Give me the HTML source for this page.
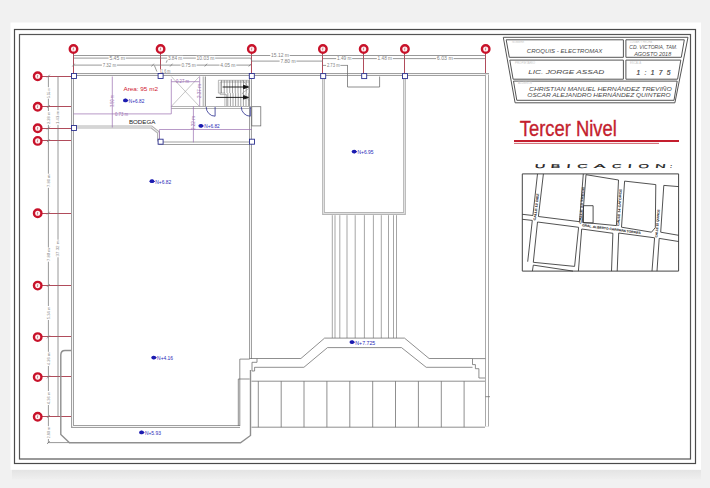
<!DOCTYPE html><html><head><meta charset="utf-8"><style>html,body{margin:0;padding:0;background:#f1f1f1;width:710px;height:488px;overflow:hidden}svg{display:block}text{font-family:"Liberation Sans",sans-serif}</style></head><body>
<div id="w">
<svg width="710" height="488" viewBox="0 0 710 488">
<defs><linearGradient id="sh" x1="0" y1="0" x2="0" y2="1"><stop offset="0" stop-color="#e3e3e3"/><stop offset="1" stop-color="#efefef"/></linearGradient></defs>
<rect x="0" y="0" width="710" height="488" fill="#f1f1f1"/>
<rect x="12" y="469.5" width="689" height="10" fill="url(#sh)"/>
<rect x="10.5" y="22.5" width="690.5" height="447.3" fill="#ffffff"/>
<rect x="14.5" y="29.5" width="681" height="434" fill="none" stroke="#4a4a4a" stroke-width="1.2"/>
<rect x="19.5" y="34.5" width="671" height="424.5" fill="none" stroke="#555" stroke-width="1.2"/>
<polygon points="503.3,37.3 688.0,37.3 674.9,102.8 515.1,102.8" fill="none" stroke="#555" stroke-width="1"/>
<polygon points="506.2,39.8 623.4,39.8 623.4,57.3 509.3,57.3" fill="none" stroke="#555" stroke-width="1"/>
<polygon points="625.9,39.8 684.3,39.8 681.3,57.3 625.9,57.3" fill="none" stroke="#555" stroke-width="1"/>
<polygon points="509.8,60.1 623.4,60.1 623.4,79.2 513.1,79.2" fill="none" stroke="#555" stroke-width="1"/>
<polygon points="625.9,60.1 680.8,60.1 677.6,79.2 625.9,79.2" fill="none" stroke="#555" stroke-width="1"/>
<polygon points="513.5,81.1 677.2,81.1 674.0,100.3 516.8,100.3" fill="none" stroke="#555" stroke-width="1"/>
<text x="512" y="43.2" font-size="2.6" fill="#c8c8c8" font-weight="normal" font-style="normal" textLength="12" lengthAdjust="spacingAndGlyphs" text-anchor="start" >NOMBRE</text>
<text x="630" y="43.2" font-size="2.6" fill="#c8c8c8" font-weight="normal" font-style="normal" textLength="22" lengthAdjust="spacingAndGlyphs" text-anchor="start" >LUGAR Y FECHA</text>
<text x="515" y="63.6" font-size="2.6" fill="#c8c8c8" font-weight="normal" font-style="normal" textLength="20" lengthAdjust="spacingAndGlyphs" text-anchor="start" >PROPIETARIO</text>
<text x="630" y="63.6" font-size="2.6" fill="#c8c8c8" font-weight="normal" font-style="normal" textLength="11" lengthAdjust="spacingAndGlyphs" text-anchor="start" >ESCALA</text>
<text x="518" y="84" font-size="2.6" fill="#c8c8c8" font-weight="normal" font-style="normal" textLength="14" lengthAdjust="spacingAndGlyphs" text-anchor="start" >ALUMNOS</text>
<text x="526.8" y="53.0" font-size="5.4" fill="#4a4a4a" font-weight="normal" font-style="italic" textLength="75.6" lengthAdjust="spacingAndGlyphs" text-anchor="start" >CROQUIS - ELECTROMAX</text>
<text x="629.3" y="49.3" font-size="4.9" fill="#4a4a4a" font-weight="normal" font-style="italic" textLength="48" lengthAdjust="spacingAndGlyphs" text-anchor="start" >CD. VICTORIA, TAM.</text>
<text x="634.2" y="56.0" font-size="4.9" fill="#4a4a4a" font-weight="normal" font-style="italic" textLength="37" lengthAdjust="spacingAndGlyphs" text-anchor="start" >AGOSTO 2018</text>
<text x="528.2" y="74.1" font-size="5.5" fill="#4a4a4a" font-weight="normal" font-style="italic" textLength="76" lengthAdjust="spacingAndGlyphs" text-anchor="start" >LIC. JORGE ASSAD</text>
<text x="636.4" y="74.6" font-size="6.6" fill="#444" stroke="#444" stroke-width="0.2" textLength="34" lengthAdjust="spacing" font-style="italic">1:175</text>
<text x="529" y="90.7" font-size="5.2" fill="#4a4a4a" font-weight="normal" font-style="italic" textLength="142.7" lengthAdjust="spacingAndGlyphs" text-anchor="start" >CHRISTIAN MANUEL HERNÁNDEZ TREVIÑO</text>
<text x="527.3" y="97.2" font-size="5.2" fill="#4a4a4a" font-weight="normal" font-style="italic" textLength="143.3" lengthAdjust="spacingAndGlyphs" text-anchor="start" >OSCAR ALEJANDRO HERNÁNDEZ QUINTERO</text>
<text x="519.8" y="136" font-size="21.5" fill="#c41e2e" font-weight="normal" font-style="normal" textLength="97" lengthAdjust="spacingAndGlyphs" text-anchor="start" stroke="#c41e2e" stroke-width="0.35">Tercer Nivel</text>
<line x1="514" y1="141" x2="679" y2="141" stroke="#c41e2e" stroke-width="1.8"/>
<line x1="514" y1="143.4" x2="659" y2="143.4" stroke="#c8505a" stroke-width="0.9"/>
<text x="0" y="0" font-size="5.6" fill="#1a1a1a" stroke="#1a1a1a" stroke-width="0.18" transform="translate(534.60,168.1) skewX(-8) scale(2.629,1)">U</text>
<text x="0" y="0" font-size="5.6" fill="#1a1a1a" stroke="#1a1a1a" stroke-width="0.18" transform="translate(550.40,168.1) skewX(-8) scale(2.559,1)">B</text>
<text x="0" y="0" font-size="5.6" fill="#1a1a1a" stroke="#1a1a1a" stroke-width="0.18" transform="translate(566.30,168.1) skewX(-8) scale(2.679,1)">I</text>
<text x="0" y="0" font-size="5.6" fill="#1a1a1a" stroke="#1a1a1a" stroke-width="0.18" transform="translate(576.90,168.1) skewX(-8) scale(2.604,1)">C</text>
<text x="0" y="0" font-size="5.6" fill="#1a1a1a" stroke="#1a1a1a" stroke-width="0.18" transform="translate(593.80,168.1) skewX(-8) scale(3.092,1)">A</text>
<text x="0" y="0" font-size="5.6" fill="#1a1a1a" stroke="#1a1a1a" stroke-width="0.18" transform="translate(611.70,168.1) skewX(-8) scale(2.356,1)">C</text>
<text x="0" y="0" font-size="5.6" fill="#1a1a1a" stroke="#1a1a1a" stroke-width="0.18" transform="translate(627.60,168.1) skewX(-8) scale(2.679,1)">I</text>
<text x="0" y="0" font-size="5.6" fill="#1a1a1a" stroke="#1a1a1a" stroke-width="0.18" transform="translate(638.20,168.1) skewX(-8) scale(2.404,1)">O</text>
<text x="0" y="0" font-size="5.6" fill="#1a1a1a" stroke="#1a1a1a" stroke-width="0.18" transform="translate(655.10,168.1) skewX(-8) scale(2.604,1)">N</text>
<text x="0" y="0" font-size="5.6" fill="#1a1a1a" stroke="#1a1a1a" stroke-width="0.18" transform="translate(669.80,168.1) skewX(-8) scale(1.403,1)">:</text>
<g fill="none" stroke="#333" stroke-width="0.85" stroke-linejoin="round">
<rect x="522.3" y="173.9" width="156.3" height="97.2" stroke="#444" stroke-width="1"/>
<polyline points="537.5,173.9 532.9,215.5 522.3,214.3"/>
<polyline points="522.3,219.3 532.3,220.4 527.7,261.7"/>
<polyline points="543.4,173.9 538.4,216.5 579.5,221.7 583.3,173.9"/>
<polyline points="537.5,222 578.6,227.3 574.6,266.4 533.3,262.3 537.5,222"/>
<polyline points="532.4,271.1 533.3,265.1 573,271.1"/>
<polyline points="586,174.7 618.5,180 616.4,225.6 582.3,222.3 586,174.7"/>
<polyline points="581.7,229 612.9,233.3 611.5,271.1"/>
<polyline points="581.7,229 578.4,271.1"/>
<polyline points="624.6,181.1 655.8,184.6 655.3,227.6 651.5,232.2 621.5,227.2 624.6,181.1"/>
<polyline points="618.7,233 654.6,237.8 652,271.1"/>
<polyline points="618.7,233 617.2,271.1"/>
<polyline points="678.6,186.6 663.8,185.4 660.7,232.2 678.6,235.3"/>
<polyline points="678.6,241.5 659.2,238.4 657,271.1"/>
<rect x="583.5" y="205.7" width="9.6" height="17.2"/>
</g>
<text x="0" y="0" font-size="3" fill="#333" stroke="#333" stroke-width="0.15" textLength="27" lengthAdjust="spacingAndGlyphs" transform="translate(535.6,220.5) rotate(-83)">CALLE 12 DIEZ</text>
<text x="0" y="0" font-size="3" fill="#333" stroke="#333" stroke-width="0.15" textLength="37" lengthAdjust="spacingAndGlyphs" transform="translate(581.3,223.8) rotate(-85.5)">CALLE 13 TRECE</text>
<text x="0" y="0" font-size="3" fill="#333" stroke="#333" stroke-width="0.15" textLength="37" lengthAdjust="spacingAndGlyphs" transform="translate(619.1,226) rotate(-86)">CALLE 14 CATORCE</text>
<text x="0" y="0" font-size="3" fill="#333" stroke="#333" stroke-width="0.15" textLength="28" lengthAdjust="spacingAndGlyphs" transform="translate(657.2,237.5) rotate(-85)">CALLE 15 QUINCE</text>
<text x="0" y="0" font-size="3" fill="#333" stroke="#333" stroke-width="0.15" textLength="59" lengthAdjust="spacingAndGlyphs" transform="translate(582,226.2) rotate(7.6)">GRAL. ALBERTO CARRERA TORRES</text>
<line x1="73.5" y1="53" x2="73.5" y2="73.5" stroke="#a83848" stroke-width="0.9"/>
<line x1="160.5" y1="53" x2="160.5" y2="73.5" stroke="#a83848" stroke-width="0.9"/>
<line x1="251.5" y1="53" x2="251.5" y2="73.5" stroke="#a83848" stroke-width="0.9"/>
<line x1="322.5" y1="53" x2="322.5" y2="73.5" stroke="#a83848" stroke-width="0.9"/>
<line x1="363.5" y1="53" x2="363.5" y2="73.5" stroke="#a83848" stroke-width="0.9"/>
<line x1="404.5" y1="53" x2="404.5" y2="73.5" stroke="#a83848" stroke-width="0.9"/>
<line x1="485.5" y1="53" x2="485.5" y2="73.5" stroke="#a83848" stroke-width="0.9"/>
<line x1="42" y1="76.5" x2="72" y2="76.5" stroke="#a83848" stroke-width="0.9"/>
<line x1="42" y1="106.5" x2="72" y2="106.5" stroke="#a83848" stroke-width="0.9"/>
<line x1="42" y1="128.5" x2="72" y2="128.5" stroke="#a83848" stroke-width="0.9"/>
<line x1="42" y1="140.5" x2="72" y2="140.5" stroke="#a83848" stroke-width="0.9"/>
<line x1="42" y1="213.5" x2="72" y2="213.5" stroke="#a83848" stroke-width="0.9"/>
<line x1="42" y1="285.5" x2="72" y2="285.5" stroke="#a83848" stroke-width="0.9"/>
<line x1="42" y1="336.5" x2="72" y2="336.5" stroke="#a83848" stroke-width="0.9"/>
<line x1="42" y1="376.5" x2="72" y2="376.5" stroke="#a83848" stroke-width="0.9"/>
<line x1="42" y1="416.5" x2="72" y2="416.5" stroke="#a83848" stroke-width="0.9"/>
<g stroke="#777" stroke-width="0.75" fill="none">
<line x1="73.5" y1="55.5" x2="485.7" y2="55.5"/>
<line x1="73.5" y1="58.1" x2="250.8" y2="58.1"/>
<line x1="251.8" y1="61.1" x2="322.9" y2="61.1"/>
<line x1="250.8" y1="58.1" x2="251.8" y2="61.1"/>
<line x1="322.9" y1="58.6" x2="485.7" y2="58.6"/>
<line x1="73.5" y1="65.1" x2="250.8" y2="65.1"/>
<line x1="322.9" y1="65.4" x2="348" y2="65.4"/>
<line x1="166.2" y1="62.7" x2="168.3" y2="58.1"/>
<line x1="154.4" y1="65.5" x2="156.9" y2="71.6"/>
<line x1="48.4" y1="76.1" x2="48.4" y2="442.6"/>
<line x1="58" y1="76.1" x2="58" y2="416.7"/>
<line x1="47.8" y1="442.6" x2="69.3" y2="442.6"/>
<line x1="47" y1="77.5" x2="49.8" y2="74.69999999999999"/>
<line x1="47" y1="107.9" x2="49.8" y2="105.1"/>
<line x1="47" y1="129.5" x2="49.8" y2="126.69999999999999"/>
<line x1="47" y1="142.1" x2="49.8" y2="139.29999999999998"/>
<line x1="47" y1="214.5" x2="49.8" y2="211.7"/>
<line x1="47" y1="286.79999999999995" x2="49.8" y2="284.0"/>
<line x1="47" y1="338.29999999999995" x2="49.8" y2="335.5"/>
<line x1="47" y1="378.29999999999995" x2="49.8" y2="375.5"/>
<line x1="47" y1="417.9" x2="49.8" y2="415.1"/>
<line x1="47" y1="444.0" x2="49.8" y2="441.20000000000005"/>
<line x1="72.3" y1="66.5" x2="74.7" y2="63.7"/>
<line x1="151.5" y1="66.5" x2="153.89999999999998" y2="63.7"/>
<line x1="170.10000000000002" y1="66.5" x2="172.5" y2="63.7"/>
<line x1="204.70000000000002" y1="66.5" x2="207.1" y2="63.7"/>
<line x1="248.70000000000002" y1="66.5" x2="251.1" y2="63.7"/>
</g>
<rect x="108.60000000000001" y="56.0" width="17.1" height="4.6" fill="#fff"/><text x="109.4" y="59.949999999999996" font-size="4.6" fill="#808080" textLength="15.5" lengthAdjust="spacingAndGlyphs">5.45 m</text>
<rect x="101.9" y="62.8" width="14.999999999999991" height="4.6" fill="#fff"/><text x="102.7" y="66.75" font-size="4.6" fill="#808080" textLength="13.399999999999991" lengthAdjust="spacingAndGlyphs">7.32 m</text>
<rect x="167.1" y="55.800000000000004" width="16.000000000000007" height="4.6" fill="#fff"/><text x="167.9" y="59.75" font-size="4.6" fill="#808080" textLength="14.400000000000006" lengthAdjust="spacingAndGlyphs">3.84 m</text>
<rect x="195.79999999999998" y="55.800000000000004" width="19.400000000000013" height="4.6" fill="#fff"/><text x="196.6" y="59.75" font-size="4.6" fill="#808080" textLength="17.80000000000001" lengthAdjust="spacingAndGlyphs">10.03 m</text>
<rect x="180.6" y="62.8" width="16.000000000000007" height="4.6" fill="#fff"/><text x="181.4" y="66.75" font-size="4.6" fill="#808080" textLength="14.400000000000006" lengthAdjust="spacingAndGlyphs">0.75 m</text>
<rect x="219.5" y="62.8" width="16.79999999999999" height="4.6" fill="#fff"/><text x="220.3" y="66.75" font-size="4.6" fill="#808080" textLength="15.199999999999989" lengthAdjust="spacingAndGlyphs">4.05 m</text>
<rect x="270.3" y="53.300000000000004" width="19.399999999999956" height="4.6" fill="#fff"/><text x="271.1" y="57.25" font-size="4.6" fill="#808080" textLength="17.799999999999955" lengthAdjust="spacingAndGlyphs">15.12 m</text>
<rect x="279.59999999999997" y="58.800000000000004" width="16.800000000000047" height="4.6" fill="#fff"/><text x="280.4" y="62.75" font-size="4.6" fill="#808080" textLength="15.200000000000045" lengthAdjust="spacingAndGlyphs">7.80 m</text>
<rect x="336.2" y="56.300000000000004" width="15.999999999999977" height="4.6" fill="#fff"/><text x="337" y="60.25" font-size="4.6" fill="#808080" textLength="14.399999999999977" lengthAdjust="spacingAndGlyphs">1.49 m</text>
<rect x="376.8" y="56.300000000000004" width="15.999999999999977" height="4.6" fill="#fff"/><text x="377.6" y="60.25" font-size="4.6" fill="#808080" textLength="14.399999999999977" lengthAdjust="spacingAndGlyphs">1.48 m</text>
<rect x="436.0" y="56.300000000000004" width="17.6" height="4.6" fill="#fff"/><text x="436.8" y="60.25" font-size="4.6" fill="#808080" textLength="16.0" lengthAdjust="spacingAndGlyphs">6.03 m</text>
<rect x="326.09999999999997" y="63.10000000000001" width="14.300000000000045" height="4.6" fill="#fff"/><text x="326.9" y="67.05000000000001" font-size="4.6" fill="#808080" textLength="12.700000000000045" lengthAdjust="spacingAndGlyphs">2.73 m</text>
<rect x="160.29999999999998" y="69.3" width="10.900000000000011" height="4.6" fill="#fff"/><text x="161.1" y="73.25" font-size="4.6" fill="#808080" textLength="9.300000000000011" lengthAdjust="spacingAndGlyphs">1.6 m</text>
<g transform="translate(48.4,92.95) rotate(-90)"><rect x="-5.750000000000003" y="-2.3" width="11.500000000000005" height="4.6" fill="#fff"/><text x="0" y="1.4" font-size="3.9" fill="#808080" text-anchor="middle" textLength="9.900000000000006" lengthAdjust="spacingAndGlyphs">5.55 m</text></g>
<g transform="translate(48.4,117.94999999999999) rotate(-90)"><rect x="-6.949999999999998" y="-2.3" width="13.899999999999997" height="4.6" fill="#fff"/><text x="0" y="1.4" font-size="3.9" fill="#808080" text-anchor="middle" textLength="12.299999999999997" lengthAdjust="spacingAndGlyphs">2.28 m</text></g>
<g transform="translate(58,117.5) rotate(-90)"><rect x="-7.3" y="-2.3" width="14.6" height="4.6" fill="#fff"/><text x="0" y="1.4" font-size="3.9" fill="#808080" text-anchor="middle" textLength="13" lengthAdjust="spacingAndGlyphs">1.43 m</text></g>
<g transform="translate(48.4,180.75) rotate(-90)"><rect x="-7.05" y="-2.3" width="14.1" height="4.6" fill="#fff"/><text x="0" y="1.4" font-size="3.9" fill="#808080" text-anchor="middle" textLength="12.5" lengthAdjust="spacingAndGlyphs">7.80 m</text></g>
<g transform="translate(48.4,254.6) rotate(-90)"><rect x="-7.099999999999983" y="-2.3" width="14.199999999999966" height="4.6" fill="#fff"/><text x="0" y="1.4" font-size="3.9" fill="#808080" text-anchor="middle" textLength="12.599999999999966" lengthAdjust="spacingAndGlyphs">7.80 m</text></g>
<g transform="translate(58,248.5) rotate(-90)"><rect x="-8.8" y="-2.3" width="17.6" height="4.6" fill="#fff"/><text x="0" y="1.4" font-size="3.9" fill="#808080" text-anchor="middle" textLength="16.0" lengthAdjust="spacingAndGlyphs">37.32 m</text></g>
<g transform="translate(48.4,313.0) rotate(-90)"><rect x="-6.9999999999999885" y="-2.3" width="13.999999999999977" height="4.6" fill="#fff"/><text x="0" y="1.4" font-size="3.9" fill="#808080" text-anchor="middle" textLength="12.399999999999977" lengthAdjust="spacingAndGlyphs">5.34 m</text></g>
<g transform="translate(48.4,358.9) rotate(-90)"><rect x="-7.099999999999983" y="-2.3" width="14.199999999999966" height="4.6" fill="#fff"/><text x="0" y="1.4" font-size="3.9" fill="#808080" text-anchor="middle" textLength="12.599999999999966" lengthAdjust="spacingAndGlyphs">4.26 m</text></g>
<g transform="translate(48.4,398.0) rotate(-90)"><rect x="-6.9999999999999885" y="-2.3" width="13.999999999999977" height="4.6" fill="#fff"/><text x="0" y="1.4" font-size="3.9" fill="#808080" text-anchor="middle" textLength="12.399999999999977" lengthAdjust="spacingAndGlyphs">4.36 m</text></g>
<g transform="translate(48.4,432.6) rotate(-90)"><rect x="-6.399999999999994" y="-2.3" width="12.799999999999988" height="4.6" fill="#fff"/><text x="0" y="1.4" font-size="3.9" fill="#808080" text-anchor="middle" textLength="11.199999999999989" lengthAdjust="spacingAndGlyphs">2.80 m</text></g>
<polyline points="71,74.5 489,74.5" fill="none" stroke="#a0a0a0" stroke-width="3" stroke-linejoin="miter"/>
<polyline points="71,74.5 489,74.5" fill="none" stroke="#f6f6f6" stroke-width="1" stroke-linejoin="miter"/>
<polyline points="72.5,73 72.5,426.5 240,426.5" fill="none" stroke="#a0a0a0" stroke-width="3" stroke-linejoin="miter"/>
<polyline points="72.5,73 72.5,426.5 240,426.5" fill="none" stroke="#f6f6f6" stroke-width="1" stroke-linejoin="miter"/>
<polyline points="71,127 151.5,127 158.5,132.5 158.5,141.5" fill="none" stroke="#b4b4b4" stroke-width="3" stroke-linejoin="miter"/>
<polyline points="71,127 151.5,127 158.5,132.5 158.5,141.5" fill="none" stroke="#f6f6f6" stroke-width="1" stroke-linejoin="miter"/>
<polyline points="158.5,143.3 251,143.3" fill="none" stroke="#a0a0a0" stroke-width="3.6" stroke-linejoin="miter"/>
<polyline points="158.5,143.3 251,143.3" fill="none" stroke="#ffffff" stroke-width="1.6" stroke-linejoin="miter"/>
<polyline points="250.5,143 250.5,359" fill="none" stroke="#a0a0a0" stroke-width="3" stroke-linejoin="miter"/>
<polyline points="250.5,143 250.5,359" fill="none" stroke="#f6f6f6" stroke-width="1" stroke-linejoin="miter"/>
<polyline points="250.5,74.5 250.5,143" fill="none" stroke="#a0a0a0" stroke-width="3" stroke-linejoin="miter"/>
<polyline points="250.5,74.5 250.5,143" fill="none" stroke="#f6f6f6" stroke-width="1" stroke-linejoin="miter"/>
<polyline points="323.5,74.5 323.5,213.5 404.5,213.5 404.5,74.5" fill="none" stroke="#b6b6b6" stroke-width="2.8" stroke-linejoin="miter"/>
<polyline points="323.5,74.5 323.5,213.5 404.5,213.5 404.5,74.5" fill="none" stroke="#ececec" stroke-width="0.7999999999999998" stroke-linejoin="miter"/>
<polyline points="487,74.5 487,426.5" fill="none" stroke="#aaaaaa" stroke-width="4" stroke-linejoin="miter"/>
<polyline points="487,74.5 487,426.5" fill="none" stroke="#ffffff" stroke-width="2" stroke-linejoin="miter"/>
<path d="M71,350.5 L65,350.5 Q60.8,350.5 60.8,355 L60.8,434.5 L69.5,442.8 L240.5,442.8 L250.5,435.5 L250.5,370" fill="none" stroke="#8f8f8f" stroke-width="1.4"/>
<g stroke="#6a6a6a" stroke-width="0.75" fill="none">
<g stroke="#a0a0a0" stroke-width="0.6"><line x1="171.3" y1="76.5" x2="199.4" y2="106.4"/><line x1="199.4" y1="76.5" x2="171.3" y2="106.4"/></g>
<line x1="203.2" y1="76.5" x2="203.2" y2="106.4" stroke="#8a8a8a"/>
<line x1="205.4" y1="76.5" x2="205.4" y2="106.4" stroke="#9a9a9a" stroke-width="1.2"/>
<line x1="171.3" y1="106.5" x2="251" y2="106.5" stroke="#999"/>
<line x1="171.3" y1="108.5" x2="251" y2="108.5" stroke="#999"/>
<g stroke="#8a8a8a" stroke-width="0.6">
<polyline points="249,80.3 218.4,80.3 218.4,93.1 224.9,93.1 224.9,106"/>
<polyline points="249,82 220.2,82 220.2,94.6 226.6,94.6 226.6,106"/>
</g>
<g stroke="#555" stroke-width="0.55">
<line x1="221.50" y1="80.3" x2="221.50" y2="93.1"/>
<line x1="224.25" y1="80.3" x2="224.25" y2="93.1"/>
<line x1="227.00" y1="80.3" x2="227.00" y2="93.1"/>
<line x1="229.75" y1="80.3" x2="229.75" y2="93.1"/>
<line x1="232.50" y1="80.3" x2="232.50" y2="93.1"/>
<line x1="235.25" y1="80.3" x2="235.25" y2="93.1"/>
<line x1="238.00" y1="80.3" x2="238.00" y2="93.1"/>
<line x1="240.75" y1="80.3" x2="240.75" y2="93.1"/>
<line x1="243.50" y1="80.3" x2="243.50" y2="93.1"/>
<line x1="246.25" y1="80.3" x2="246.25" y2="93.1"/>
<line x1="249.00" y1="80.3" x2="249.00" y2="93.1"/>
<line x1="227.80" y1="93.1" x2="227.80" y2="106"/>
<line x1="230.40" y1="93.1" x2="230.40" y2="106"/>
<line x1="233.00" y1="93.1" x2="233.00" y2="106"/>
<line x1="235.60" y1="93.1" x2="235.60" y2="106"/>
<line x1="238.20" y1="93.1" x2="238.20" y2="106"/>
<line x1="240.80" y1="93.1" x2="240.80" y2="106"/>
<line x1="243.40" y1="93.1" x2="243.40" y2="106"/>
<line x1="246.00" y1="93.1" x2="246.00" y2="106"/>
<line x1="248.60" y1="93.1" x2="248.60" y2="106"/>
</g>
<polyline points="242.4,80.3 249.5,88 242.4,93.1 249.5,101" stroke="#8a8a8a" stroke-width="0.6"/>
<rect x="251.8" y="106.7" width="9" height="19.2"/>
<polyline points="347.5,65.4 347.5,87 379.6,87 379.6,76.5"/>
<line x1="332.3" y1="215.2" x2="332.3" y2="338.1" stroke-width="0.6"/>
<line x1="335" y1="215.2" x2="335" y2="338.1" stroke-width="0.6"/>
<line x1="339.8" y1="215.2" x2="339.8" y2="338.1" stroke-width="0.6"/>
<line x1="347" y1="215.2" x2="347" y2="338.1" stroke-width="0.6"/>
<line x1="355.2" y1="215.2" x2="355.2" y2="338.1" stroke-width="0.6"/>
<line x1="364.4" y1="215.2" x2="364.4" y2="338.1" stroke-width="0.6"/>
<line x1="373.4" y1="215.2" x2="373.4" y2="338.1" stroke-width="0.6"/>
<line x1="381.3" y1="215.2" x2="381.3" y2="338.1" stroke-width="0.6"/>
<line x1="388.5" y1="215.2" x2="388.5" y2="338.1" stroke-width="0.6"/>
<line x1="393.5" y1="215.2" x2="393.5" y2="338.1" stroke-width="0.6"/>
<line x1="396.5" y1="215.2" x2="396.5" y2="338.1" stroke-width="0.6"/>
<polyline points="249.7,358.5 300.9,358.5 324.6,338.1 404.5,338.1 429.1,358.5 472.5,358.5 472.5,364.6 475.4,364.6 475.4,368.7 478.9,368.7 478.9,378 485,378"/>
<polyline points="254.6,367.3 303.9,367.3 327.5,347.6 401.5,347.6 426.2,367.3 472.5,367.3"/>
<polyline points="472.5,358.6 485.4,358.6"/>
<polyline points="239.8,426 239.8,359.1 249.7,359.1"/>
<polyline points="238.3,426 238.3,379 249.7,379"/>
<polyline points="257,358.6 257,362.3 252,362.3 252,371 254.6,371 254.6,367.2"/>
<line x1="251.5" y1="381.2" x2="485" y2="381.2"/>
<line x1="251.5" y1="427.2" x2="485" y2="427.2"/>
<line x1="258.3" y1="381.2" x2="258.3" y2="427.2"/>
<line x1="281.2" y1="381.2" x2="281.2" y2="427.2"/>
<line x1="304.0" y1="381.2" x2="304.0" y2="427.2"/>
<line x1="326.9" y1="381.2" x2="326.9" y2="427.2"/>
<line x1="349.8" y1="381.2" x2="349.8" y2="427.2"/>
<line x1="372.7" y1="381.2" x2="372.7" y2="427.2"/>
<line x1="395.5" y1="381.2" x2="395.5" y2="427.2"/>
<line x1="418.4" y1="381.2" x2="418.4" y2="427.2"/>
<line x1="441.3" y1="381.2" x2="441.3" y2="427.2"/>
<line x1="464.1" y1="381.2" x2="464.1" y2="427.2"/>
<line x1="485.4" y1="396.7" x2="490" y2="396.7"/>
</g>
<g stroke="#111" stroke-width="0.9" fill="#111">
<line x1="222.6" y1="87" x2="245" y2="87"/><polygon points="248.5,87 243.5,85.3 243.5,88.7"/>
<line x1="215.9" y1="97.4" x2="245" y2="97.4"/><polygon points="248.5,97.4 243.5,95.7 243.5,99.1"/>
</g>
<g stroke="#2b2f8f" stroke-width="0.8" fill="none">
<line x1="215.1" y1="107" x2="215.1" y2="116.2"/><path d="M206.2,107 A8.9,9.2 0 0 0 215.1,116.2"/>
<line x1="250.3" y1="107" x2="250.3" y2="116.2"/><path d="M241.3,107 A9,9.2 0 0 0 250.3,116.2"/>
</g>
<g stroke="#9a6fb0" stroke-width="0.7" fill="none">
<line x1="112.3" y1="76.5" x2="112.3" y2="127.5"/>
<line x1="73.5" y1="113.9" x2="171.3" y2="113.9"/>
<line x1="171.3" y1="79" x2="171.3" y2="113.9"/>
<line x1="199.7" y1="76.5" x2="199.7" y2="106.4"/>
<line x1="171.3" y1="81.7" x2="199.4" y2="81.7"/>
<line x1="159.4" y1="129.5" x2="251.8" y2="129.5"/><line x1="159.4" y1="129.5" x2="159.4" y2="141"/>
<line x1="193.4" y1="106.4" x2="193.4" y2="142.4"/>
</g>
<text x="0" y="0" font-size="4.6" fill="#9a6fb0" text-anchor="middle" textLength="12" lengthAdjust="spacingAndGlyphs" transform="translate(113.89999999999999,101.0) rotate(-90)">3.50 m</text>
<text x="115" y="115.6" font-size="4.6" fill="#9a6fb0" textLength="13" lengthAdjust="spacingAndGlyphs">0.73 m</text>
<text x="176" y="83.2" font-size="4.6" fill="#9a6fb0" textLength="13" lengthAdjust="spacingAndGlyphs">0.27 m</text>
<text x="0" y="0" font-size="4.6" fill="#9a6fb0" text-anchor="middle" textLength="14" lengthAdjust="spacingAndGlyphs" transform="translate(201.29999999999998,91.0) rotate(-90)">2.37 m</text>
<text x="0" y="0" font-size="4.6" fill="#9a6fb0" text-anchor="middle" textLength="14" lengthAdjust="spacingAndGlyphs" transform="translate(195.0,123.0) rotate(-90)">2.22 m</text>
<rect x="71.5" y="73.5" width="5" height="5" fill="#fff" stroke="#2b2f8f" stroke-width="0.9"/>
<rect x="158.1" y="73.5" width="5" height="5" fill="#fff" stroke="#2b2f8f" stroke-width="0.9"/>
<rect x="249.3" y="73.5" width="5" height="5" fill="#fff" stroke="#2b2f8f" stroke-width="0.9"/>
<rect x="320.7" y="73.6" width="5" height="5" fill="#fff" stroke="#2b2f8f" stroke-width="0.9"/>
<rect x="361.7" y="73.6" width="5" height="5" fill="#fff" stroke="#2b2f8f" stroke-width="0.9"/>
<rect x="402.5" y="73.6" width="5" height="5" fill="#fff" stroke="#2b2f8f" stroke-width="0.9"/>
<rect x="71.5" y="125.5" width="5" height="5" fill="#fff" stroke="#2b2f8f" stroke-width="0.9"/>
<rect x="158.1" y="139.2" width="5" height="5" fill="#fff" stroke="#2b2f8f" stroke-width="0.9"/>
<rect x="249.5" y="139.2" width="5" height="5" fill="#fff" stroke="#2b2f8f" stroke-width="0.9"/>
<circle cx="73.5" cy="49.0" r="3.75" fill="#fff0f1" stroke="#c8122a" stroke-width="2.4"/>
<line x1="73.5" y1="47.7" x2="73.2" y2="50.3" stroke="#8a2030" stroke-width="0.5"/>
<circle cx="160.6" cy="49.0" r="3.75" fill="#fff0f1" stroke="#c8122a" stroke-width="2.4"/>
<line x1="160.6" y1="47.7" x2="160.29999999999998" y2="50.3" stroke="#8a2030" stroke-width="0.5"/>
<circle cx="251.8" cy="49.0" r="3.75" fill="#fff0f1" stroke="#c8122a" stroke-width="2.4"/>
<line x1="251.8" y1="47.7" x2="251.5" y2="50.3" stroke="#8a2030" stroke-width="0.5"/>
<circle cx="322.9" cy="49.0" r="3.75" fill="#fff0f1" stroke="#c8122a" stroke-width="2.4"/>
<line x1="322.9" y1="47.7" x2="322.59999999999997" y2="50.3" stroke="#8a2030" stroke-width="0.5"/>
<circle cx="363.7" cy="49.0" r="3.75" fill="#fff0f1" stroke="#c8122a" stroke-width="2.4"/>
<line x1="363.7" y1="47.7" x2="363.4" y2="50.3" stroke="#8a2030" stroke-width="0.5"/>
<circle cx="404.9" cy="49.0" r="3.75" fill="#fff0f1" stroke="#c8122a" stroke-width="2.4"/>
<line x1="404.9" y1="47.7" x2="404.59999999999997" y2="50.3" stroke="#8a2030" stroke-width="0.5"/>
<circle cx="485.7" cy="49.0" r="3.75" fill="#fff0f1" stroke="#c8122a" stroke-width="2.4"/>
<line x1="485.7" y1="47.7" x2="485.4" y2="50.3" stroke="#8a2030" stroke-width="0.5"/>
<circle cx="37.7" cy="76.3" r="3.75" fill="#fff0f1" stroke="#c8122a" stroke-width="2.4"/>
<line x1="37.7" y1="75.0" x2="37.400000000000006" y2="77.6" stroke="#8a2030" stroke-width="0.5"/>
<circle cx="37.7" cy="106.7" r="3.75" fill="#fff0f1" stroke="#c8122a" stroke-width="2.4"/>
<line x1="37.7" y1="105.4" x2="37.400000000000006" y2="108.0" stroke="#8a2030" stroke-width="0.5"/>
<circle cx="37.7" cy="128.29999999999998" r="3.75" fill="#fff0f1" stroke="#c8122a" stroke-width="2.4"/>
<line x1="37.7" y1="126.99999999999999" x2="37.400000000000006" y2="129.6" stroke="#8a2030" stroke-width="0.5"/>
<circle cx="37.7" cy="140.89999999999998" r="3.75" fill="#fff0f1" stroke="#c8122a" stroke-width="2.4"/>
<line x1="37.7" y1="139.59999999999997" x2="37.400000000000006" y2="142.2" stroke="#8a2030" stroke-width="0.5"/>
<circle cx="37.7" cy="213.29999999999998" r="3.75" fill="#fff0f1" stroke="#c8122a" stroke-width="2.4"/>
<line x1="37.7" y1="211.99999999999997" x2="37.400000000000006" y2="214.6" stroke="#8a2030" stroke-width="0.5"/>
<circle cx="37.7" cy="285.59999999999997" r="3.75" fill="#fff0f1" stroke="#c8122a" stroke-width="2.4"/>
<line x1="37.7" y1="284.29999999999995" x2="37.400000000000006" y2="286.9" stroke="#8a2030" stroke-width="0.5"/>
<circle cx="37.7" cy="337.09999999999997" r="3.75" fill="#fff0f1" stroke="#c8122a" stroke-width="2.4"/>
<line x1="37.7" y1="335.79999999999995" x2="37.400000000000006" y2="338.4" stroke="#8a2030" stroke-width="0.5"/>
<circle cx="37.7" cy="377.09999999999997" r="3.75" fill="#fff0f1" stroke="#c8122a" stroke-width="2.4"/>
<line x1="37.7" y1="375.79999999999995" x2="37.400000000000006" y2="378.4" stroke="#8a2030" stroke-width="0.5"/>
<circle cx="37.7" cy="416.7" r="3.75" fill="#fff0f1" stroke="#c8122a" stroke-width="2.4"/>
<line x1="37.7" y1="415.4" x2="37.400000000000006" y2="418.0" stroke="#8a2030" stroke-width="0.5"/>
<text x="123.4" y="91.0" font-size="5.9" fill="#d02030" font-weight="normal" font-style="normal" textLength="34.6" lengthAdjust="spacingAndGlyphs" text-anchor="start" >Area: 95 m2</text>
<text x="128.9" y="124.3" font-size="6.2" fill="#222" font-weight="normal" font-style="normal" textLength="26.6" lengthAdjust="spacingAndGlyphs" text-anchor="start" >BODEGA</text>
<ellipse cx="125.4" cy="100.4" rx="2.4" ry="1.9" fill="#1c1cb0"/><path d="M125.4,98.5 L128.70000000000002,100.60000000000001 L125.4,102.30000000000001" fill="#1c1cb0"/>
<text x="128.8" y="103.0" font-size="5" fill="#2a2ab8" textLength="15.5" lengthAdjust="spacingAndGlyphs">N+6.82</text>
<ellipse cx="200.8" cy="125.8" rx="2.4" ry="1.9" fill="#1c1cb0"/><path d="M200.8,123.89999999999999 L204.10000000000002,126.0 L200.8,127.7" fill="#1c1cb0"/>
<text x="204.20000000000002" y="128.4" font-size="5" fill="#2a2ab8" textLength="15.5" lengthAdjust="spacingAndGlyphs">N+6.82</text>
<ellipse cx="151.9" cy="181.2" rx="2.4" ry="1.9" fill="#1c1cb0"/><path d="M151.9,179.29999999999998 L155.20000000000002,181.39999999999998 L151.9,183.1" fill="#1c1cb0"/>
<text x="155.3" y="183.79999999999998" font-size="5" fill="#2a2ab8" textLength="16" lengthAdjust="spacingAndGlyphs">N+6.82</text>
<ellipse cx="354.1" cy="151.6" rx="2.4" ry="1.9" fill="#1c1cb0"/><path d="M354.1,149.7 L357.40000000000003,151.79999999999998 L354.1,153.5" fill="#1c1cb0"/>
<text x="357.5" y="154.2" font-size="5" fill="#2a2ab8" textLength="16" lengthAdjust="spacingAndGlyphs">N+6.95</text>
<ellipse cx="153.7" cy="357.6" rx="2.4" ry="1.9" fill="#1c1cb0"/><path d="M153.7,355.70000000000005 L157.0,357.8 L153.7,359.5" fill="#1c1cb0"/>
<text x="157.1" y="360.20000000000005" font-size="5" fill="#2a2ab8" textLength="16" lengthAdjust="spacingAndGlyphs">N+4.16</text>
<ellipse cx="141.5" cy="432.4" rx="2.4" ry="1.9" fill="#1c1cb0"/><path d="M141.5,430.5 L144.8,432.59999999999997 L141.5,434.29999999999995" fill="#1c1cb0"/>
<text x="144.9" y="435.0" font-size="5" fill="#2a2ab8" textLength="16" lengthAdjust="spacingAndGlyphs">N+5.93</text>
<ellipse cx="351.9" cy="342.1" rx="2.4" ry="1.9" fill="#1c1cb0"/><path d="M351.9,340.20000000000005 L355.2,342.3 L351.9,344.0" fill="#1c1cb0"/>
<text x="355.29999999999995" y="344.70000000000005" font-size="5" fill="#2a2ab8" textLength="20" lengthAdjust="spacingAndGlyphs">N+7.725</text>
</svg></div></body></html>
